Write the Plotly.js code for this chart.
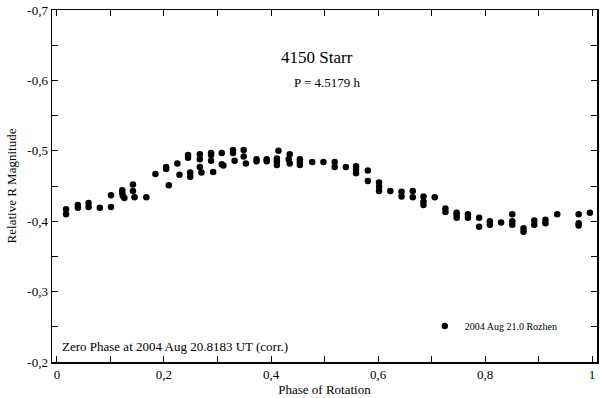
<!DOCTYPE html>
<html>
<head>
<meta charset="utf-8">
<script src="https://cdn.plot.ly/plotly-3.0.1.min.js"></script>
<style>
    html, body { margin: 0; padding: 0; background: #fff; }
    #graph { width: 600px; height: 398px; }
</style>
</head>
<body>
<div id="graph"></div>
<script>
// light curve
const phase = [
    0.017, 0.017, 0.039, 0.039, 0.059, 0.059, 0.080, 0.101, 0.101,
    0.122, 0.122, 0.123, 0.126, 0.142, 0.142, 0.145, 0.167, 0.184,
    0.204, 0.204, 0.209, 0.225, 0.229, 0.245, 0.245, 0.249, 0.249,
    0.267, 0.267, 0.267, 0.270, 0.288, 0.288, 0.288, 0.292,
    0.308, 0.308, 0.311, 0.329, 0.329, 0.332, 0.349, 0.349, 0.353,
    0.373, 0.373, 0.392, 0.392, 0.414, 0.411, 0.411, 0.411,
    0.435, 0.433, 0.435, 0.454, 0.454, 0.454, 0.477, 0.498,
    0.519, 0.519, 0.540, 0.559, 0.559, 0.559, 0.581, 0.581,
    0.602, 0.602, 0.602, 0.623, 0.644, 0.644, 0.665, 0.665,
    0.685, 0.685, 0.685, 0.706, 0.726, 0.726, 0.747, 0.747, 0.747,
    0.768, 0.768, 0.789, 0.789, 0.809, 0.809, 0.830,
    0.851, 0.851, 0.851, 0.872, 0.872, 0.892, 0.892, 0.913, 0.913,
    0.935, 0.975, 0.975, 0.975, 0.996
];
const magnitude = [
    -0.417, -0.410, -0.423, -0.419, -0.426, -0.420, -0.419, -0.437, -0.420,
    -0.444, -0.440, -0.436, -0.433, -0.452, -0.443, -0.434, -0.434, -0.467,
    -0.477, -0.474, -0.451, -0.482, -0.466, -0.494, -0.490, -0.469, -0.463,
    -0.495, -0.488, -0.477, -0.469, -0.497, -0.494, -0.486, -0.470,
    -0.497, -0.481, -0.479, -0.501, -0.497, -0.486, -0.501, -0.492, -0.482,
    -0.488, -0.485, -0.488, -0.485, -0.500, -0.489, -0.485, -0.480,
    -0.495, -0.488, -0.482, -0.488, -0.484, -0.480, -0.484, -0.484,
    -0.484, -0.477, -0.477, -0.478, -0.473, -0.468, -0.472, -0.457,
    -0.455, -0.449, -0.443, -0.443, -0.442, -0.435, -0.443, -0.434,
    -0.435, -0.428, -0.423, -0.434, -0.418, -0.413, -0.412, -0.409, -0.405,
    -0.410, -0.405, -0.405, -0.392, -0.400, -0.395, -0.398,
    -0.410, -0.400, -0.395, -0.390, -0.385, -0.401, -0.395, -0.402, -0.397,
    -0.410, -0.410, -0.397, -0.394, -0.412
];

const xTickVals = [0, 0.1, 0.2, 0.3, 0.4, 0.5, 0.6, 0.7, 0.8, 0.9, 1];
const xTickText = ['0', '', '0,2', '', '0,4', '', '0,6', '', '0,8', '', '1'];
const yTickVals = [-0.2, -0.25, -0.3, -0.35, -0.4, -0.45, -0.5, -0.55, -0.6, -0.65, -0.7];
const yTickText = ['-0,2', '', '-0,3', '', '-0,4', '', '-0,5', '', '-0,6', '', '-0,7'];

const serif = 'Liberation Serif, Times New Roman, serif';

const lightCurve = {
    x: phase,
    y: magnitude,
    mode: 'markers',
    type: 'scatter',
    name: '2004 Aug 21.0 Rozhen',
    marker: {color: '#000', size: 6.5}
};

const axisStyle = {
    showline: true,
    linecolor: '#000',
    linewidth: 1.5,
    mirror: 'allticks',
    ticks: 'inside',
    ticklen: 6,
    tickwidth: 1,
    tickcolor: '#000',
    showgrid: false,
    zeroline: false,
    tickmode: 'array',
    tickfont: {family: serif, size: 13, color: '#000'}
};

// paper coordinates from pixel positions inside the plot box
function px(x) { return (x - 52) / 545; }
function py(y) { return (362 - y) / 352; }

const layout = {
    width: 600,
    height: 398,
    margin: {l: 52, r: 3, t: 10, b: 36},
    paper_bgcolor: '#fff',
    plot_bgcolor: '#fff',
    font: {family: serif, color: '#000'},
    showlegend: true,
    legend: {
        x: 0.684,
        xanchor: 'left',
        y: 0.102,
        yanchor: 'middle',
        bgcolor: 'rgba(0,0,0,0)',
        font: {family: serif, size: 10, color: '#000'}
    },
    xaxis: Object.assign({}, axisStyle, {
        range: [-0.0093, 1.0093],
        tickvals: xTickVals,
        ticktext: xTickText,
        title: {text: 'Phase of Rotation', font: {family: serif, size: 13}, standoff: 4}
    }),
    yaxis: Object.assign({}, axisStyle, {
        range: [-0.2, -0.7],
        tickvals: yTickVals,
        ticktext: yTickText,
        title: {text: 'Relative R Magnitude', font: {family: serif, size: 13}, standoff: 8}
    }),
    annotations: [
        {
            text: '4150 Starr', xref: 'paper', yref: 'paper',
            x: px(317), y: py(57), yanchor: 'middle', showarrow: false,
            font: {family: serif, size: 17, color: '#000'}
        },
        {
            text: 'P = 4.5179 h', xref: 'paper', yref: 'paper',
            x: px(327), y: py(82), yanchor: 'middle', showarrow: false,
            font: {family: serif, size: 13, color: '#000'}
        },
        {
            text: 'Zero Phase at 2004 Aug 20.8183 UT (corr.)', xref: 'paper', yref: 'paper',
            x: px(60), xanchor: 'left', y: py(346), yanchor: 'middle', showarrow: false,
            font: {family: serif, size: 13, color: '#000'}
        }
    ]
};

const config = {
    displayModeBar: false,
    staticPlot: true
};

Plotly.newPlot('graph', [lightCurve], layout, config);
</script>
</body>
</html>
